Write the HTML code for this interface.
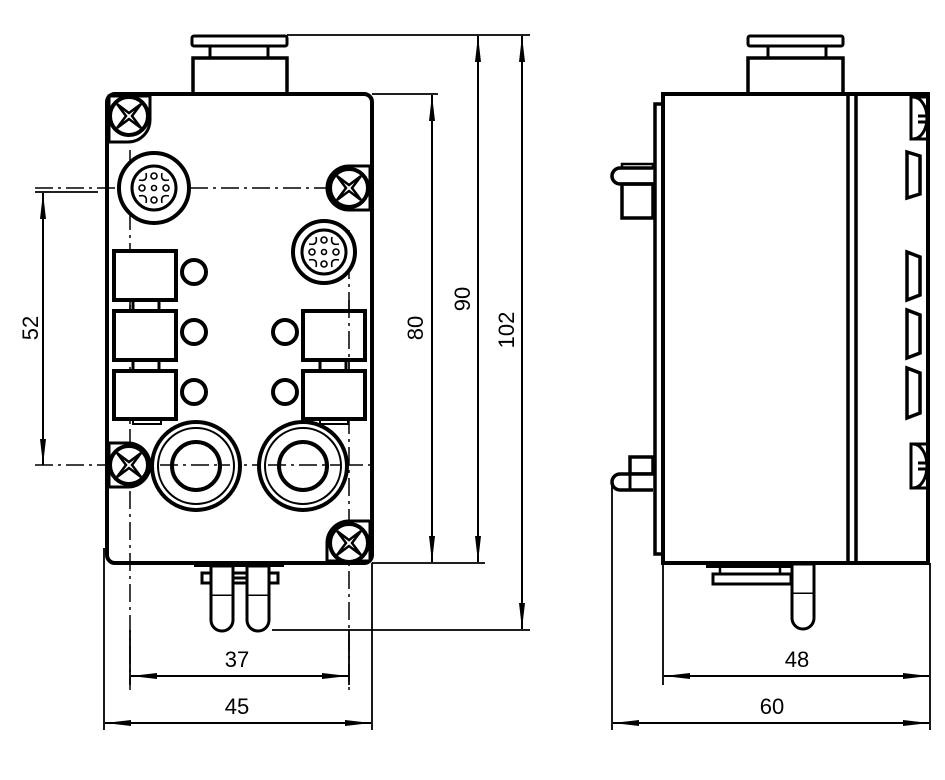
<!DOCTYPE html>
<html><head><style>
html,body{margin:0;padding:0;background:#fff;}
svg{display:block;}
text{font-family:"Liberation Sans",sans-serif;font-size:22px;fill:#000;}
</style></head><body>
<svg width="945" height="780" viewBox="0 0 945 780" xmlns="http://www.w3.org/2000/svg">
<defs>
<marker id="a" viewBox="0 0 26 6" refX="26" refY="3" markerWidth="26" markerHeight="6" markerUnits="userSpaceOnUse" orient="auto-start-reverse">
<path d="M26,3 L0,0 L0,6 Z" fill="#000"/></marker>
<g id="screw">
<circle r="19" fill="#fff" stroke="#000" stroke-width="4"/>
<path d="M-12,-12 L-3,0 L-12,12 M12,-12 L3,0 L12,12 M-12,-12 L0,-3 L12,-12 M-12,12 L0,3 L12,12" fill="none" stroke="#000" stroke-width="2.5"/>
</g>
<g id="m12">
<circle r="22" fill="none" stroke="#000" stroke-width="3"/>
<circle r="2.5" fill="none" stroke="#000" stroke-width="1.6"/>
<circle cx="0" cy="-12" r="3" fill="none" stroke="#000" stroke-width="1.6"/>
<circle cx="0" cy="12" r="3" fill="none" stroke="#000" stroke-width="1.6"/>
<circle cx="-12" cy="0" r="3" fill="none" stroke="#000" stroke-width="1.6"/>
<circle cx="12" cy="0" r="3" fill="none" stroke="#000" stroke-width="1.6"/>
<path d="M-15,-8 Q-6,-6 -8,-15 M15,-8 Q6,-6 8,-15 M-15,8 Q-6,6 -8,15 M15,8 Q6,6 8,15" fill="none" stroke="#000" stroke-width="1.6"/>
</g>
<g id="gland">
<circle r="44" fill="#fff" stroke="#000" stroke-width="4"/>
<circle r="38" fill="none" stroke="#000" stroke-width="2"/>
<circle r="24" fill="none" stroke="#000" stroke-width="4"/>
</g>
<g id="led">
<rect x="-11" y="0" width="22" height="30" fill="#fff" stroke="#000" stroke-width="3"/>
<path d="M-11,30 L-11,54 A11,11 0 0 0 11,54 L11,30" fill="#fff" stroke="#000" stroke-width="3"/>
</g>
</defs>

<g fill="none" stroke="#000">
<!-- FRONT VIEW -->
<rect x="192" y="36" width="95" height="10" rx="2" stroke-width="3"/>
<path d="M210,46 V58 M268,46 V58" stroke-width="3"/>
<rect x="193" y="58" width="94" height="36" stroke-width="3.5"/>
<rect x="107" y="94" width="265" height="469" rx="8" stroke-width="4" fill="#fff"/>

<path d="M35,188 H370 M35,465 H372 M130,150 V690 M349,230 V690" stroke-width="1.5" stroke-dasharray="18,5,3,5"/>

<path d="M109,96 H150 V120 A22,22 0 0 1 128,142 H109 Z" fill="#fff" stroke-width="3"/>
<use href="#screw" x="129" y="116"/>
<path d="M370,166 H349 A22,22 0 0 0 349,210 H370 Z" fill="#fff" stroke-width="3"/>
<use href="#screw" x="349" y="188"/>
<path d="M109,443 H128 A22,22 0 0 1 128,487 H109 Z" fill="#fff" stroke-width="3"/>
<use href="#screw" x="129" y="465"/>
<path d="M370,521 H349 A22,22 0 0 0 327,543 V561 H370 Z" fill="#fff" stroke-width="3"/>
<use href="#screw" x="349" y="543"/>

<circle cx="154" cy="188" r="35" stroke-width="4" fill="#fff"/>
<use href="#m12" x="154" y="188"/>
<circle cx="324" cy="252" r="31" stroke-width="4" fill="#fff"/>
<use href="#m12" x="324" y="252"/>

<rect x="114" y="251" width="62" height="49" stroke-width="4" fill="#fff"/>
<rect x="114" y="311" width="62" height="49" stroke-width="4" fill="#fff"/>
<rect x="114" y="371" width="62" height="48" stroke-width="4" fill="#fff"/>
<path d="M133,300 V311 M159,300 V311 M133,360 V371 M159,360 V371" stroke-width="3"/>
<rect x="133" y="419" width="28" height="5" stroke-width="2"/>
<circle cx="194" cy="272" r="12" stroke-width="4"/>
<circle cx="194" cy="332" r="12" stroke-width="4"/>
<circle cx="194" cy="392" r="12" stroke-width="4"/>
<rect x="303" y="311" width="62" height="49" stroke-width="4" fill="#fff"/>
<rect x="303" y="371" width="62" height="48" stroke-width="4" fill="#fff"/>
<path d="M320,360 V371 M346,360 V371" stroke-width="3"/>
<rect x="320" y="419" width="28" height="5" stroke-width="2"/>
<circle cx="285" cy="332" r="12" stroke-width="4"/>
<circle cx="285" cy="392" r="12" stroke-width="4"/>
<path d="M130,300 V311 M349,300 V371" stroke-width="1.5" stroke-dasharray="18,5,3,5"/>

<use href="#gland" x="196" y="466"/>
<use href="#gland" x="303" y="466"/>
<path d="M160,465 H230 M268,465 H340" stroke-width="1.5" stroke-dasharray="18,5,3,5"/>

<path d="M194,565 H284" stroke-width="4"/>
<rect x="202" y="573" width="76" height="10" stroke-width="3" fill="#fff"/>
<use href="#led" x="222" y="566"/>
<use href="#led" x="258" y="566"/>
<path d="M233,578 H247" stroke-width="3"/>

<path d="M287,35 H530 M372,94 H438 M372,563 H485 M272,630 H530 M35,192 H98" stroke-width="1.8"/>
<path d="M43,193 V465" stroke-width="2" marker-start="url(#a)" marker-end="url(#a)"/>
<path d="M432,95 V562" stroke-width="2" marker-start="url(#a)" marker-end="url(#a)"/>
<path d="M478,36 V562" stroke-width="2" marker-start="url(#a)" marker-end="url(#a)"/>
<path d="M522,36 V629" stroke-width="2" marker-start="url(#a)" marker-end="url(#a)"/>
<path d="M104,548 V730 M372,563 V730 M130,630 V685 M349,630 V685" stroke-width="1.8"/>
<path d="M131,676 H348" stroke-width="2" marker-start="url(#a)" marker-end="url(#a)"/>
<path d="M105,723 H371" stroke-width="2" marker-start="url(#a)" marker-end="url(#a)"/>

<!-- SIDE VIEW -->
<rect x="748" y="36" width="95" height="10" rx="2" stroke-width="3"/>
<path d="M768,46 V58 M826,46 V58" stroke-width="3"/>
<rect x="748" y="58" width="95" height="36" stroke-width="3.5"/>
<rect x="663" y="94" width="265" height="469" stroke-width="4" fill="#fff"/>
<path d="M848,94 V563 M856,94 V563" stroke-width="3.5"/>
<path d="M663,104 H655 V554 H663" stroke-width="3.5"/>
<rect x="622" y="164" width="31" height="4" stroke-width="2.5"/>
<path d="M653,168 H620 A8,8 0 0 0 620,184 H653" stroke-width="3.5" fill="#fff"/>
<rect x="622" y="184" width="31" height="34" stroke-width="3.5"/>
<rect x="630" y="457" width="23" height="17" stroke-width="3.5"/>
<path d="M653,474 H620 A8,8 0 0 0 620,490 H653" stroke-width="3.5" fill="#fff"/>
<path d="M630,474 V490" stroke-width="3"/>
<path d="M612,482 V730" stroke-width="1.8"/>
<path d="M926,97 H911 V139 H926 M913,97 A14,21 0 0 1 913,139 M918,116 H926 M918,122 H926" stroke-width="3"/>
<path d="M907,152 L920,156 V194 L907,198 Z" stroke-width="3.5"/>
<path d="M907,252 L920,257 V295 L907,300 Z" stroke-width="3.5"/>
<path d="M907,310 L920,315 V353 L907,358 Z" stroke-width="3.5"/>
<path d="M907,368 L920,373 V413 L907,418 Z" stroke-width="3.5"/>
<path d="M926,444 H911 V488 H926 M913,444 A14,22 0 0 1 913,488 M918,463 H926 M918,469 H926" stroke-width="3"/>
<path d="M706,566 H797" stroke-width="4"/>
<path d="M720,568 V573 M780,568 V573" stroke-width="2.5"/>
<rect x="713" y="574" width="78" height="10" stroke-width="3" fill="#fff"/>
<use href="#led" x="803" y="564"/>
<path d="M663,563 V685 M930,563 V730" stroke-width="1.8"/>
<path d="M664,676 H929" stroke-width="2" marker-start="url(#a)" marker-end="url(#a)"/>
<path d="M613,723 H929" stroke-width="2" marker-start="url(#a)" marker-end="url(#a)"/>
</g>

<text x="237" y="667" text-anchor="middle">37</text>
<text x="237" y="714" text-anchor="middle">45</text>
<text x="797" y="667" text-anchor="middle">48</text>
<text x="772" y="714" text-anchor="middle">60</text>
<text transform="translate(38 328) rotate(-90)" text-anchor="middle">52</text>
<text transform="translate(423 328) rotate(-90)" text-anchor="middle">80</text>
<text transform="translate(470 299) rotate(-90)" text-anchor="middle">90</text>
<text transform="translate(514 330) rotate(-90)" text-anchor="middle">102</text>
</svg>
</body></html>
